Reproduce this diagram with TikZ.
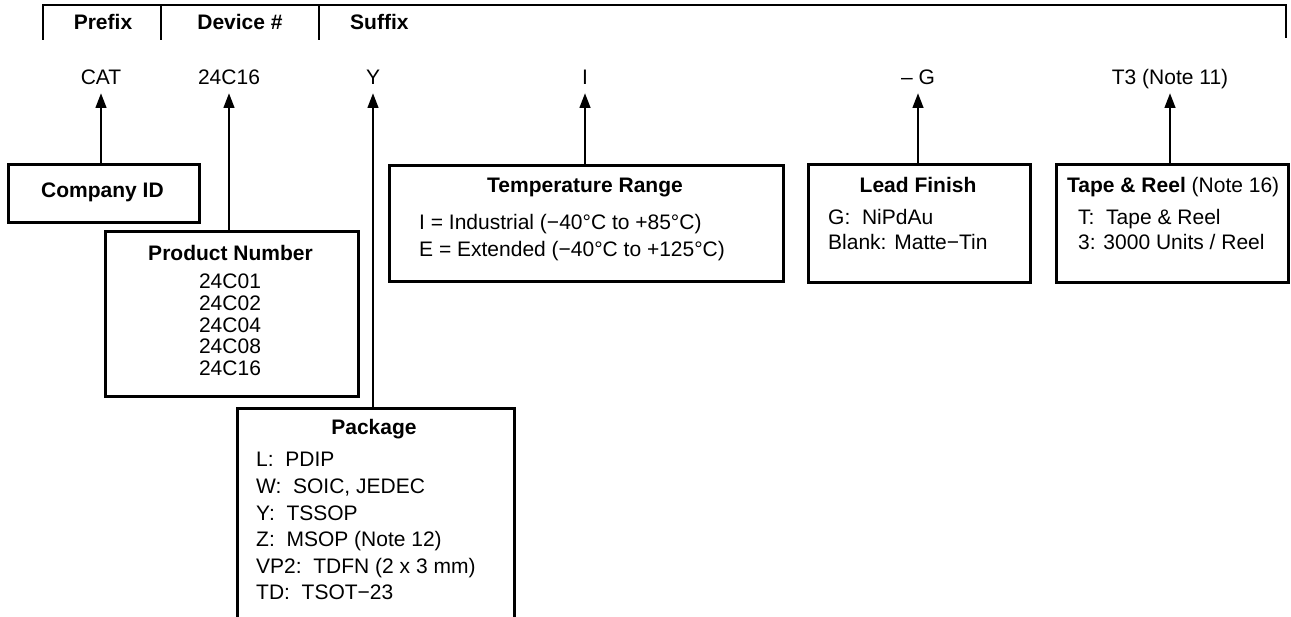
\documentclass[tikz,border=0pt]{standalone}
\usepackage{fontspec}
\setmainfont{Liberation Sans}
\usetikzlibrary{arrows.meta}
\begin{document}
\begin{tikzpicture}[x=1pt,y=-1pt,
  font=\fontsize{21}{25}\selectfont,
  bracket/.style={line width=2.6pt},
  box/.style={draw, line width=2.8pt, anchor=north west, inner sep=0pt},
  txt/.style={anchor=base, inner sep=0pt},
  txtl/.style={anchor=base west, inner sep=0pt},
  hdr/.style={anchor=base, inner sep=0pt, font=\fontsize{21}{25}\selectfont\bfseries},
  arr/.style={line width=2.8pt, -{Triangle[length=15pt,width=10.5pt]}}]
\useasboundingbox (0,0) rectangle (1291,617);
% top bracket
\draw[bracket] (43,40) -- (43,5) -- (1286,5) -- (1286,38);
\draw[bracket] (161,5) -- (161,40);
\draw[bracket] (319,5) -- (319,40);
\node[hdr] (pfx) at (103,30) {Prefix};
\node[hdr] (dev) at (240,30) {Device \#};
\node[hdr, anchor=base west] (sfx) at (350,30) {Suffix};
% part number labels
\node[txt] (cat) at (101,85) {CAT};
\node[txt] (dn)  at (229,85) {24C16};
\node[txt] (ys)  at (373,85) {Y};
\node[txt] (is)  at (585,85) {I};
\node[txt] (gs)  at (918,85) {– G};
\node[txt] (ts)  at (1170,85) {T3 (Note 11)};
% boxes
\node[box, minimum width=191pt, minimum height=58pt] (cid) at (7,163) {};
\node[box, minimum width=253pt, minimum height=165pt] (pn) at (104,230) {};
\node[box, minimum width=277pt, minimum height=240pt] (pkg) at (236,407) {};
\node[box, minimum width=394pt, minimum height=116pt] (tr) at (388,164) {};
\node[box, minimum width=222pt, minimum height=118pt] (lf) at (807,163) {};
\node[box, minimum width=232pt, minimum height=118pt] (tp) at (1055,163) {};
% connectors
\draw[arr] (cat.base |- cid.north) -- ([yshift=-8pt]cat.base);
\draw[arr] (dn.base |- pn.north) -- ([yshift=-8pt]dn.base);
\draw[arr] (ys.base |- pkg.north) -- ([yshift=-8pt]ys.base);
\draw[arr] (is.base |- tr.north) -- ([yshift=-8pt]is.base);
\draw[arr] (gs.base |- lf.north) -- ([yshift=-8pt]gs.base);
\draw[arr] (ts.base |- tp.north) -- ([yshift=-8pt]ts.base);
% box texts
\node[hdr] (cidt) at (102.5,198) {Company ID};
\node[hdr] (pnt) at (230.5,261) {Product Number};
\node[txt] (pn1) at (230,289) {24C01};
\node[txt] (pn2) at (230,310.7) {24C02};
\node[txt] (pn3) at (230,332.3) {24C04};
\node[txt] (pn4) at (230,354) {24C08};
\node[txt] (pn5) at (230,375.7) {24C16};
\node[hdr] (trt) at (585,193) {Temperature Range};
\node[txtl] (tr1) at (419,230) {I = Industrial (−40°C to +85°C)};
\node[txtl] (tr2) at (419,257) {E = Extended (−40°C to +125°C)};
\node[hdr] (lft) at (918,193) {Lead Finish};
\node[txtl] (lf1) at (828,225) {G:\ \ NiPdAu};
\node[txtl] (lf2) at (828,250) {Blank: Matte−Tin};
\node[txtl] (tpt) at (1067,193) {\textbf{Tape \& Reel} (Note 16)};
\node[txtl] (tp1) at (1078,225) {T:\ \ Tape \& Reel};
\node[txtl] (tp2) at (1078,250) {3: 3000 Units / Reel};
\node[hdr] (pkgt) at (374,435) {Package};
\node[txtl] (pk1) at (256,467) {L:\ \ PDIP};
\node[txtl] (pk2) at (256,493.5) {W:\ \ SOIC, JEDEC};
\node[txtl] (pk3) at (256,520) {Y:\ \ TSSOP};
\node[txtl] (pk4) at (256,546.5) {Z:\ \ MSOP (Note 12)};
\node[txtl] (pk5) at (256,573) {VP2:\ \ TDFN (2 x 3 mm)};
\node[txtl] (pk6) at (256,599.5) {TD:\ \ TSOT−23};
\end{tikzpicture}
\end{document}
